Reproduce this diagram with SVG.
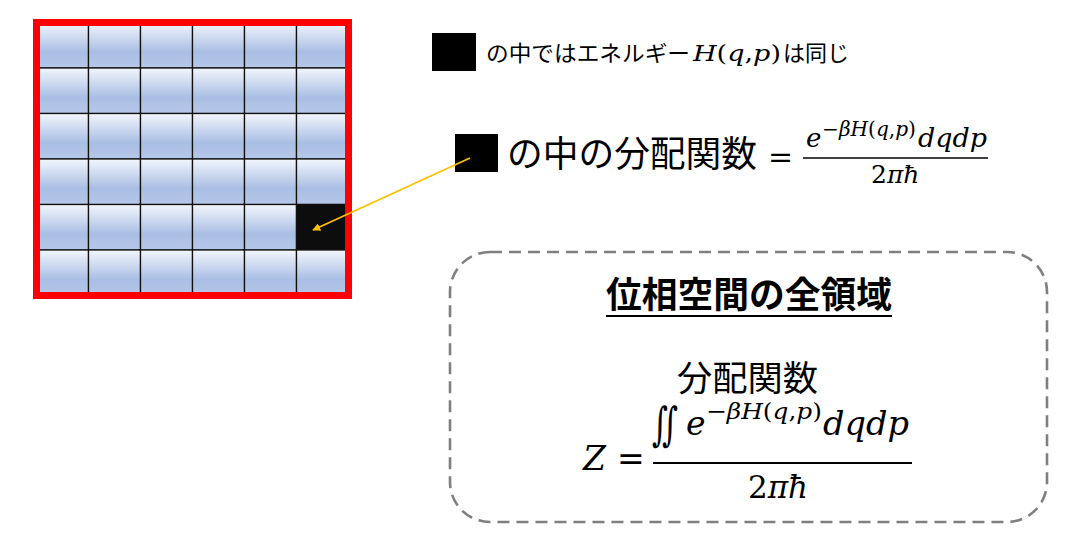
<svg xmlns="http://www.w3.org/2000/svg" width="1077" height="558" viewBox="0 0 1077 558">
<style>
.cell{fill:url(#cg);stroke:#111;stroke-width:1.3}
.jp{font-family:"Noto Sans CJK JP","Noto Sans",sans-serif;fill:#000}
.m{font-family:"DejaVu Serif","DejaVu Sans",serif;font-style:italic;fill:#000}
.u{font-style:normal}
</style>
<defs>
<linearGradient id="cg" x1="0" y1="0" x2="0" y2="1">
<stop offset="0" stop-color="#f3f6fc"/>
<stop offset="0.65" stop-color="#a9bee4"/>
<stop offset="1" stop-color="#b6c8e9"/>
</linearGradient>
<marker id="ah" viewBox="0 0 10 10" refX="9" refY="5" markerWidth="8" markerHeight="8" markerUnits="userSpaceOnUse" orient="auto">
<path d="M0,0 L10,5 L0,10 z" fill="#ffc000"/>
</marker>
</defs>
<rect width="1077" height="558" fill="#fff"/>

<g id="phase-grid">
<g>
<rect class="cell" x="36.5" y="22.5" width="52" height="45.5"/><rect class="cell" x="88.5" y="22.5" width="52" height="45.5"/><rect class="cell" x="140.5" y="22.5" width="52" height="45.5"/><rect class="cell" x="192.5" y="22.5" width="52" height="45.5"/><rect class="cell" x="244.5" y="22.5" width="52" height="45.5"/><rect class="cell" x="296.5" y="22.5" width="52" height="45.5"/>
<rect class="cell" x="36.5" y="68" width="52" height="45.5"/><rect class="cell" x="88.5" y="68" width="52" height="45.5"/><rect class="cell" x="140.5" y="68" width="52" height="45.5"/><rect class="cell" x="192.5" y="68" width="52" height="45.5"/><rect class="cell" x="244.5" y="68" width="52" height="45.5"/><rect class="cell" x="296.5" y="68" width="52" height="45.5"/>
<rect class="cell" x="36.5" y="113.5" width="52" height="45.5"/><rect class="cell" x="88.5" y="113.5" width="52" height="45.5"/><rect class="cell" x="140.5" y="113.5" width="52" height="45.5"/><rect class="cell" x="192.5" y="113.5" width="52" height="45.5"/><rect class="cell" x="244.5" y="113.5" width="52" height="45.5"/><rect class="cell" x="296.5" y="113.5" width="52" height="45.5"/>
<rect class="cell" x="36.5" y="159" width="52" height="45.5"/><rect class="cell" x="88.5" y="159" width="52" height="45.5"/><rect class="cell" x="140.5" y="159" width="52" height="45.5"/><rect class="cell" x="192.5" y="159" width="52" height="45.5"/><rect class="cell" x="244.5" y="159" width="52" height="45.5"/><rect class="cell" x="296.5" y="159" width="52" height="45.5"/>
<rect class="cell" x="36.5" y="204.5" width="52" height="45.5"/><rect class="cell" x="88.5" y="204.5" width="52" height="45.5"/><rect class="cell" x="140.5" y="204.5" width="52" height="45.5"/><rect class="cell" x="192.5" y="204.5" width="52" height="45.5"/><rect class="cell" x="244.5" y="204.5" width="52" height="45.5"/>
<rect x="296.5" y="204.5" width="52" height="45.5" fill="#0d0d0d" stroke="#111" stroke-width="1.3"/>
<rect class="cell" x="36.5" y="250" width="52" height="45.5"/><rect class="cell" x="88.5" y="250" width="52" height="45.5"/><rect class="cell" x="140.5" y="250" width="52" height="45.5"/><rect class="cell" x="192.5" y="250" width="52" height="45.5"/><rect class="cell" x="244.5" y="250" width="52" height="45.5"/><rect class="cell" x="296.5" y="250" width="52" height="45.5"/>
</g>
<rect x="36.5" y="22.5" width="312" height="273" fill="none" stroke="#ff0000" stroke-width="7"/>
</g>

<g id="legend">
<rect x="432" y="33" width="44" height="38" fill="#000"/>
<text class="jp" x="486" y="61" font-size="22" textLength="204" lengthAdjust="spacingAndGlyphs">の中ではエネルギー</text>
<text class="m" x="693" y="61" font-size="23" textLength="88" lengthAdjust="spacingAndGlyphs">H<tspan class="u">(</tspan>q<tspan class="u">,</tspan>p<tspan class="u">)</tspan></text>
<text class="jp" x="783" y="61" font-size="22">は同じ</text>
</g>

<g id="cell-partition">
<rect x="455" y="134" width="43" height="38" fill="#000"/>
<text class="jp" x="507" y="167" font-size="36" textLength="250" lengthAdjust="spacingAndGlyphs">の中の分配関数</text>
<text class="m u" x="768" y="167" font-size="30">=</text>
<line x1="803" y1="158" x2="988" y2="158" stroke="#000" stroke-width="1.6"/>
<text class="m" x="806" y="147" font-size="26">e</text>
<text class="m" x="822" y="136" font-size="20" textLength="94" lengthAdjust="spacingAndGlyphs"><tspan class="u">−</tspan>βH<tspan class="u">(</tspan>q<tspan class="u">,</tspan>p<tspan class="u">)</tspan></text>
<text class="m" x="918" y="147" font-size="26" textLength="69" lengthAdjust="spacingAndGlyphs">dqdp</text>
<text class="m" x="871" y="183" font-size="25"><tspan class="u">2</tspan>πħ</text>
</g>

<g id="whole-region">
<rect x="450" y="252" width="597" height="270" rx="40" ry="40" fill="#fff" stroke="#7f7f7f" stroke-width="2.6" stroke-dasharray="12 7"/>
<text class="jp" x="606" y="308" font-size="36" font-weight="700" textLength="286" lengthAdjust="spacingAndGlyphs">位相空間の全領域</text>
<line x1="606" y1="316" x2="892" y2="316" stroke="#000" stroke-width="2"/>
<text class="jp" x="677" y="391" font-size="35" textLength="141" lengthAdjust="spacingAndGlyphs">分配関数</text>
<text class="m" x="583" y="470" font-size="33">Z</text>
<text class="m u" x="617" y="470" font-size="33">=</text>
<line x1="653" y1="463" x2="912" y2="463" stroke="#000" stroke-width="1.8"/>
<text class="m u" x="652" y="440" font-size="46" textLength="26" lengthAdjust="spacingAndGlyphs">∬</text>
<text class="m" x="686" y="435" font-size="33">e</text>
<text class="m" x="706" y="419" font-size="23" textLength="116" lengthAdjust="spacingAndGlyphs"><tspan class="u">−</tspan>βH<tspan class="u">(</tspan>q<tspan class="u">,</tspan>p<tspan class="u">)</tspan></text>
<text class="m" x="823" y="435" font-size="33" textLength="86" lengthAdjust="spacingAndGlyphs">dqdp</text>
<text class="m" x="748" y="498" font-size="31"><tspan class="u">2</tspan>πħ</text>
</g>

<g id="connectors">
<line x1="470" y1="158" x2="313" y2="230" stroke="#ffc000" stroke-width="1.8" marker-end="url(#ah)"/>
</g>
</svg>
